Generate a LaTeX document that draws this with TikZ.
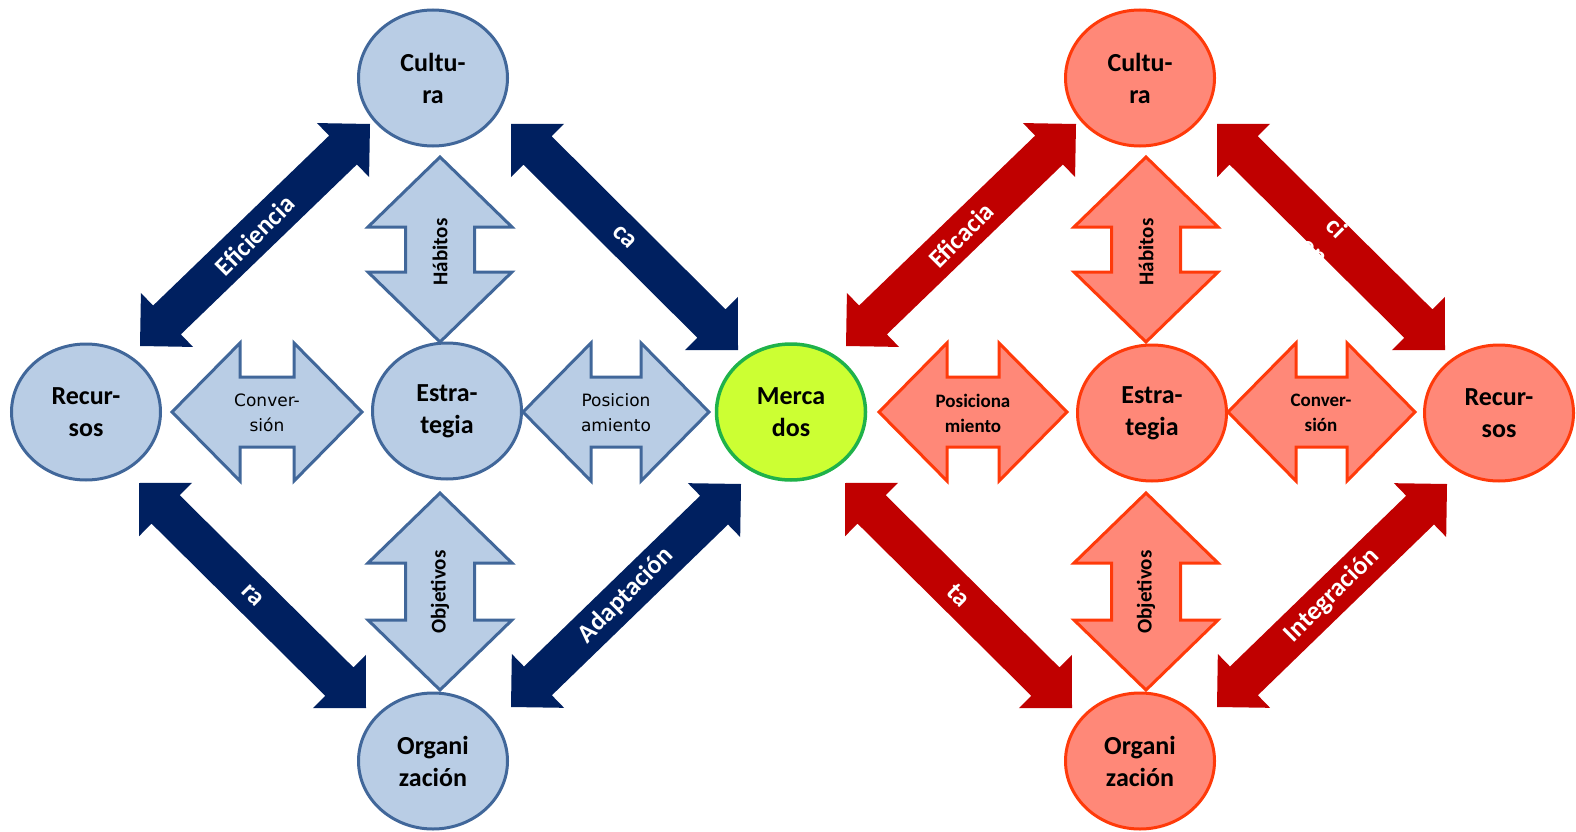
\documentclass[tikz,border=0pt]{standalone}
\usepackage{fontspec}
\setmainfont{Carlito}
\newfontfamily\verd{DejaVu Sans}
\usetikzlibrary{shapes.geometric,calc}

\definecolor{lblue}{HTML}{B9CDE5}
\definecolor{bborder}{HTML}{41679A}
\definecolor{navy}{HTML}{002060}
\definecolor{salmon}{HTML}{FF8878}
\definecolor{rborder}{HTML}{FF3A0A}
\definecolor{darkred}{HTML}{C00000}
\definecolor{lime}{HTML}{CCFF33}
\definecolor{mgreen}{HTML}{1FB24A}

\tikzset{
  circ/.style={ellipse, minimum width=149pt, minimum height=136pt, inner sep=0pt,
    line width=3pt, align=center, font=\bfseries\fontsize{26}{32}\selectfont},
  bluecirc/.style={circ, fill=lblue, draw=bborder},
  redcirc/.style={circ, fill=salmon, draw=rborder},
  greencirc/.style={circ, fill=lime, draw=mgreen, line width=3.5pt},
  bluebox/.style={fill=lblue, draw=bborder, line width=3pt, line join=miter},
  redbox/.style={fill=salmon, draw=rborder, line width=3pt, line join=miter},
  vlabel/.style={rotate=90, font=\bfseries\fontsize{21}{25}\selectfont},
  hlabelL/.style={align=center, font=\verd\fontsize{17}{25}\selectfont},
  hlabelR/.style={align=center, font=\bfseries\fontsize{19}{25}\selectfont},
  dlabel/.style={align=center, text=white, font=\bfseries\fontsize{26}{32}\selectfont},
}

% two-headed block arrow between two tip points (right-angled heads)
\newcommand\diagarrow[3]{%
  \fill[#3] (#1)
    -- ($(#1)!37.5pt!(#2)!37.5pt!90:(#2)$)
    -- ($(#1)!37.5pt!(#2)!20pt!90:(#2)$)
    -- ($(#2)!37.5pt!(#1)!20pt!-90:(#1)$)
    -- ($(#2)!37.5pt!(#1)!37.5pt!-90:(#1)$)
    -- (#2)
    -- ($(#2)!37.5pt!(#1)!37.5pt!90:(#1)$)
    -- ($(#2)!37.5pt!(#1)!20pt!90:(#1)$)
    -- ($(#1)!37.5pt!(#2)!20pt!-90:(#2)$)
    -- ($(#1)!37.5pt!(#2)!37.5pt!-90:(#2)$)
    -- cycle;}

% vertical two-headed block arrow: centre x, top tip, bottom tip, style
\newcommand\vdbl[4]{%
  \path[#4] (#1,#2) -- ({#1+72},{#2+70}) -- ({#1+34.5},{#2+70})
    -- ({#1+34.5},{#3-70}) -- ({#1+72},{#3-70}) -- (#1,#3)
    -- ({#1-72},{#3-70}) -- ({#1-34.5},{#3-70}) -- ({#1-34.5},{#2+70})
    -- ({#1-72},{#2+70}) -- cycle;}

% horizontal two-headed block arrow: centre y, left tip, right tip, style
\newcommand\hdbl[4]{%
  \path[#4] (#2,#1) -- ({#2+68},{#1-69}) -- ({#2+68},{#1-35})
    -- ({#3-68},{#1-35}) -- ({#3-68},{#1-69}) -- (#3,#1)
    -- ({#3-68},{#1+69}) -- ({#3-68},{#1+35}) -- ({#2+68},{#1+35})
    -- ({#2+68},{#1+69}) -- cycle;}

\begin{document}
\begin{tikzpicture}[x=1pt,y=-1pt]
\useasboundingbox (0,0) rectangle (1576,832);

% ---- tip points of the diagonal arrows
\coordinate (effA) at (140,346);  \coordinate (effB) at (370,124);
\coordinate (caA)  at (511,124);  \coordinate (caB)  at (738,350);
\coordinate (raA)  at (139,483);  \coordinate (raB)  at (366,708);
\coordinate (adA)  at (511,707);  \coordinate (adB)  at (741,484);
\coordinate (ecA)  at (846,346);  \coordinate (ecB)  at (1076,124);
\coordinate (ciA)  at (1217,124); \coordinate (ciB)  at (1445,350);
\coordinate (taA)  at (845,483);  \coordinate (taB)  at (1072,708);
\coordinate (inA)  at (1217,707); \coordinate (inB)  at (1447,484);

% ---- diagonal arrows
\diagarrow{effA}{effB}{navy}
\diagarrow{caA}{caB}{navy}
\diagarrow{raA}{raB}{navy}
\diagarrow{adA}{adB}{navy}
\diagarrow{ecA}{ecB}{darkred}
\diagarrow{ciA}{ciB}{darkred}
\diagarrow{taA}{taB}{darkred}
\diagarrow{inA}{inB}{darkred}

\node[dlabel, rotate=45]  (lEff) at ($(effA)!0.5!(effB)$) {Eficiencia};
\node[dlabel, rotate=-45] (lCa)  at ($(caA)!0.5!(caB)$) {ca};
\node[dlabel, rotate=-45] (lRa)  at ($(raA)!0.5!(raB)$) {ra};
\node[dlabel, rotate=45]  (lAd)  at ($(adA)!0.5!(adB)$) {Adaptación};
\node[dlabel, rotate=45]  (lEc)  at ($(ecA)!0.5!(ecB)$) {Eficacia};
\node[dlabel, rotate=-45] (lCi)  at (1326,239) {ci\\en};
\node[dlabel, rotate=-45] (lTa)  at ($(taA)!0.5!(taB)$) {ta};
\node[dlabel, rotate=45]  (lIn)  at ($(inA)!0.5!(inB)$) {Integración};

% ---- light block arrows
\vdbl{440}{157}{342}{bluebox}
\vdbl{440}{493}{690}{bluebox}
\hdbl{412}{172}{362}{bluebox}
\hdbl{412}{523}{709}{bluebox}
\vdbl{1146}{157}{342}{redbox}
\vdbl{1146}{493}{690}{redbox}
\hdbl{412}{879}{1067}{redbox}
\hdbl{412}{1228}{1415}{redbox}

\node[vlabel]  (habL) at (440,252) {Hábitos};
\node[vlabel]  (objL) at (440,592) {Objetivos};
\node[hlabelL] (conL) at (267,413) {Conver-\\sión};
\node[hlabelL] (posL) at (616,413) {Posicion\\amiento};
\node[vlabel]  (habR) at (1146,252) {Hábitos};
\node[vlabel]  (objR) at (1146,592) {Objetivos};
\node[hlabelR] (posR) at (973,413) {Posiciona\\miento};
\node[hlabelR] (conR) at (1321,413) {Conver-\\sión};

% ---- circles
\node[bluecirc]  (cultL) at (433,78)   {Cultu-\\ra};
\node[bluecirc]  (recL)  at (86,412)   {Recur-\\sos};
\node[bluecirc]  (estL)  at (447,411)  {Estra-\\tegia};
\node[bluecirc]  (orgL)  at (433,761)  {Organi\\zación};
\node[greencirc] (merc)  at (791,412)  {Merca\\dos};
\node[redcirc]   (cultR) at (1140,78)  {Cultu-\\ra};
\node[redcirc]   (estR)  at (1152,413) {Estra-\\tegia};
\node[redcirc]   (recR)  at (1499,413) {Recur-\\sos};
\node[redcirc]   (orgR)  at (1140,761) {Organi\\zación};
\end{tikzpicture}
\end{document}
